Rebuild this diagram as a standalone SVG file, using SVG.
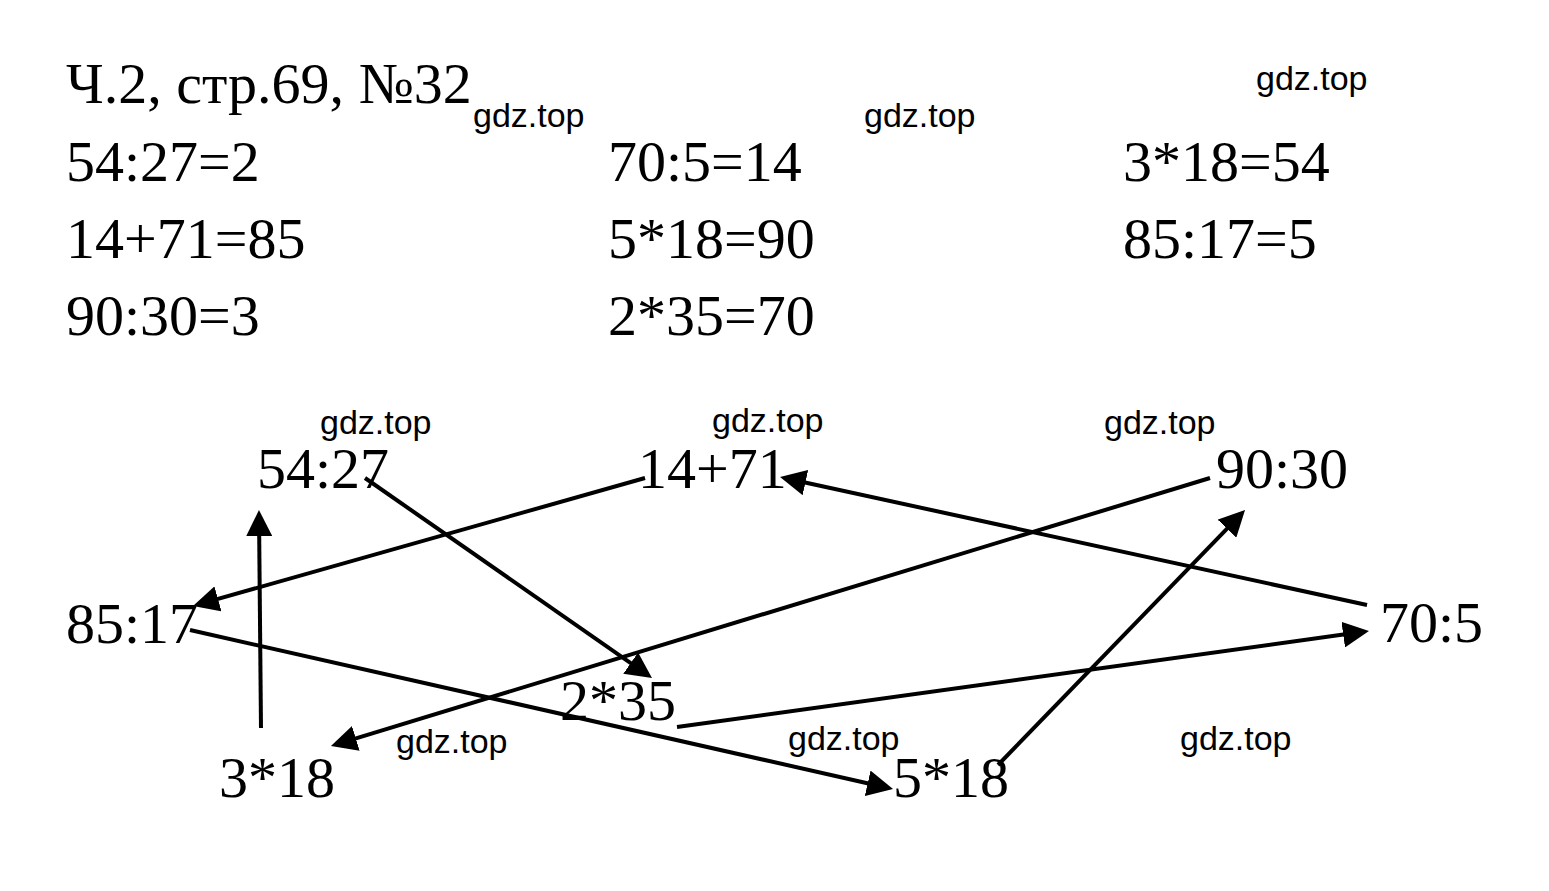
<svg xmlns="http://www.w3.org/2000/svg" width="1549" height="891" viewBox="0 0 1549 891">
<style>
.t{font-family:"Liberation Serif","Times New Roman",serif;font-size:58px;fill:#000}
.w{font-family:"Liberation Sans",Arial,sans-serif;font-size:34px;fill:#000}
.c{stroke:#000;stroke-width:4;fill:none}
</style>
<defs>
<marker id="ah" markerUnits="userSpaceOnUse" markerWidth="26" markerHeight="26" refX="11" refY="13" orient="auto" viewBox="0 0 26 26">
<path d="M0,0 L26,13 L0,26 z" fill="#000"/>
</marker>
</defs>
<rect width="1549" height="891" fill="#fff"/>
<g id="text-block">
<text class="t" x="66" y="103">Ч.2, стр.69, №32</text>
<text class="t" x="66" y="181">54:27=2</text>
<text class="t" x="66" y="258">14+71=85</text>
<text class="t" x="66" y="335">90:30=3</text>
<text class="t" x="608" y="181">70:5=14</text>
<text class="t" x="608" y="258">5*18=90</text>
<text class="t" x="608" y="335">2*35=70</text>
<text class="t" x="1123" y="181">3*18=54</text>
<text class="t" x="1123" y="258">85:17=5</text>
</g>
<g id="watermarks">
<text class="w" x="473" y="127">gdz.top</text>
<text class="w" x="864" y="127">gdz.top</text>
<text class="w" x="1256" y="90">gdz.top</text>
<text class="w" x="320" y="434">gdz.top</text>
<text class="w" x="712" y="432">gdz.top</text>
<text class="w" x="1104" y="434">gdz.top</text>
<text class="w" x="396" y="753">gdz.top</text>
<text class="w" x="788" y="750">gdz.top</text>
<text class="w" x="1180" y="750">gdz.top</text>
</g>
<g id="n-54-27"><text class="t" x="257" y="488">54:27</text></g>
<g id="n-14-71"><text class="t" x="638" y="488">14+71</text></g>
<g id="n-90-30"><text class="t" x="1216" y="488">90:30</text></g>
<g id="n-85-17"><text class="t" x="66" y="643">85:17</text></g>
<g id="n-70-5"><text class="t" x="1380" y="642">70:5</text></g>
<g id="n-2-35"><text class="t" x="560" y="720">2*35</text></g>
<g id="n-3-18"><text class="t" x="219" y="797">3*18</text></g>
<g id="n-5-18"><text class="t" x="893" y="797">5*18</text></g>
<g id="connectors">
<line class="c" x1="365" y1="478" x2="639.7" y2="669.4" marker-end="url(#ah)"/>
<line class="c" x1="645" y1="478" x2="207.4" y2="601.9" marker-end="url(#ah)"/>
<line class="c" x1="1210" y1="478" x2="345.3" y2="741.6" marker-end="url(#ah)"/>
<line class="c" x1="1367" y1="605" x2="794.7" y2="480.2" marker-end="url(#ah)"/>
<line class="c" x1="261" y1="728" x2="259.1" y2="525" marker-end="url(#ah)"/>
<line class="c" x1="190" y1="630" x2="878.4" y2="785.7" marker-end="url(#ah)"/>
<line class="c" x1="677" y1="727" x2="1354.1" y2="633.1" marker-end="url(#ah)"/>
<line class="c" x1="998" y1="765" x2="1234.6" y2="520.8" marker-end="url(#ah)"/>
</g>
</svg>
